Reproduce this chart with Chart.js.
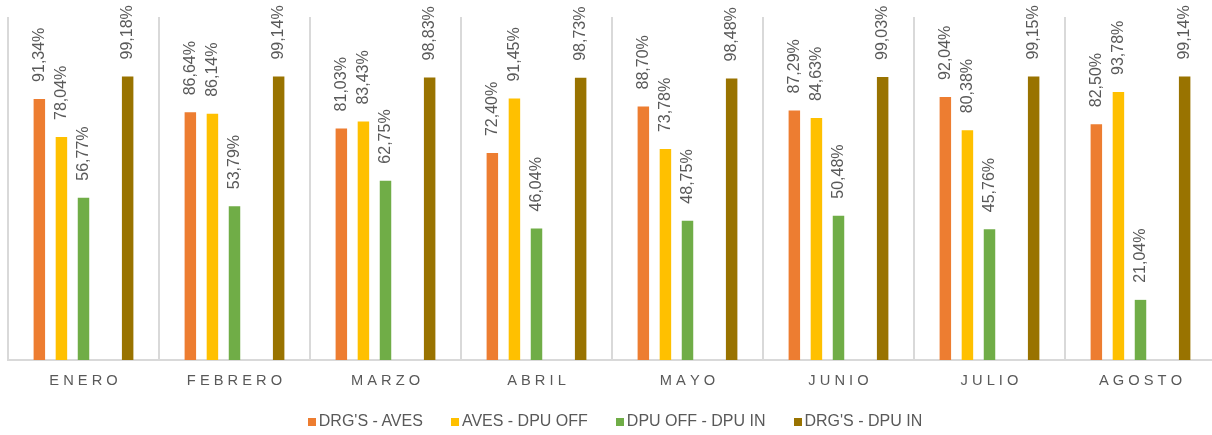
<!DOCTYPE html>
<html lang="es">
<head>
<meta charset="utf-8">
<title>Indicadores mensuales</title>
<script src="https://cdn.jsdelivr.net/npm/chart.js@4.4.1/dist/chart.umd.min.js"></script>
<style>
  html, body { margin: 0; padding: 0; background: #ffffff; overflow: hidden; }
  #wrap { position: relative; width: 1216px; height: 435px; }
  #legend {
    position: absolute; left: 8px; top: 412px; width: 1208px;
    display: flex; justify-content: center; padding-left: 6px; box-sizing: border-box;
    font-family: "Liberation Sans", Arial, sans-serif; font-size: 16px; line-height: 18px;
    color: #595959; white-space: nowrap;
  }
  #legend .item { display: flex; align-items: center; margin-right: 28px; }
  #legend .item:last-child { margin-right: 0; }
  #legend .box { width: 8px; height: 8px; margin-right: 3px; position: relative; top: 1px; }
</style>
</head>
<body>
<div id="wrap">
  <canvas id="chart" width="1216" height="435"></canvas>
  <div id="legend"></div>
</div>
<script>
// Meses
const categories = ['ENERO', 'FEBRERO', 'MARZO', 'ABRIL', 'MAYO', 'JUNIO', 'JULIO', 'AGOSTO'];

// Porcentajes por etapa
const drgsAves    = [91.34, 86.64, 81.03, 72.40, 88.70, 87.29, 92.04, 82.50];
const avesDpuOff  = [78.04, 86.14, 83.43, 91.45, 73.78, 84.63, 80.38, 93.78];
const dpuOffDpuIn = [56.77, 53.79, 62.75, 46.04, 48.75, 50.48, 45.76, 21.04];
const emptySlot   = [];
const drgsDpuIn   = [99.18, 99.14, 98.83, 98.73, 98.48, 99.03, 99.15, 99.14];

const seriesNames = ["DRG'S - AVES", 'AVES - DPU OFF', 'DPU OFF - DPU IN', '', "DRG'S - DPU IN"];
const seriesColors = ['#ED7D31', '#FFC000', '#70AD47', 'rgba(0,0,0,0)', '#997300'];
const seriesValues = [drgsAves, avesDpuOff, dpuOffDpuIn, emptySlot, drgsDpuIn];

const FONT = '"Liberation Sans", Arial, sans-serif';
const TEXT = '#595959';
const GRID = '#d9d9d9';

const fmt = v => v.toFixed(2).replace('.', ',') + '%';

// Rotated value labels above each bar
const valueLabels = {
  id: 'valueLabels',
  afterDatasetsDraw(chart) {
    const ctx = chart.ctx;
    ctx.save();
    ctx.font = '16px ' + FONT;
    ctx.fillStyle = TEXT;
    ctx.textAlign = 'left';
    ctx.textBaseline = 'middle';
    chart.data.datasets.forEach((ds, i) => {
      const meta = chart.getDatasetMeta(i);
      meta.data.forEach((bar, j) => {
        const v = ds.data[j];
        if (v == null) return;
        ctx.save();
        ctx.translate(bar.x, bar.y - 17);
        ctx.rotate(-Math.PI / 2);
        ctx.fillText(fmt(v), 0, 0);
        ctx.restore();
      });
    });
    ctx.restore();
  }
};

// Legend rendered as HTML below the plot
const htmlLegend = {
  id: 'htmlLegend',
  afterUpdate(chart) {
    const el = document.getElementById('legend');
    el.innerHTML = '';
    chart.data.datasets.forEach(ds => {
      if (!ds.label) return;
      const item = document.createElement('div');
      item.className = 'item';
      const box = document.createElement('span');
      box.className = 'box';
      box.style.background = ds.backgroundColor;
      const txt = document.createElement('span');
      txt.textContent = ds.label;
      item.appendChild(box);
      item.appendChild(txt);
      el.appendChild(item);
    });
  }
};

new Chart(document.getElementById('chart'), {
  type: 'bar',
  data: {
    labels: categories,
    datasets: seriesValues.map((vals, i) => ({
      label: seriesNames[i],
      data: vals,
      backgroundColor: seriesColors[i],
      borderWidth: 0,
      categoryPercentage: 0.731,
      barPercentage: 0.52
    }))
  },
  options: {
    responsive: false,
    animation: false,
    devicePixelRatio: 1,
    layout: { padding: { top: 17, left: 8, right: 0, bottom: 0 } },
    plugins: {
      legend: { display: false },
      tooltip: { enabled: false }
    },
    scales: {
      x: {
        offset: true,
        grid: { display: true, offset: true, color: GRID, lineWidth: 2, drawTicks: false },
        border: { display: true, color: GRID, width: 2 },
        ticks: {
          color: TEXT,
          padding: 12,
          font: { family: FONT, size: 14.67 },
          maxRotation: 0,
          autoSkip: false,
          callback(value) { return this.getLabelForValue(value).split('').join(' '); }
        },
        afterFit(scale) { scale.height = 75; }
      },
      y: {
        display: false,
        min: 0,
        max: 120
      }
    }
  },
  plugins: [valueLabels, htmlLegend]
});
</script>
</body>
</html>
